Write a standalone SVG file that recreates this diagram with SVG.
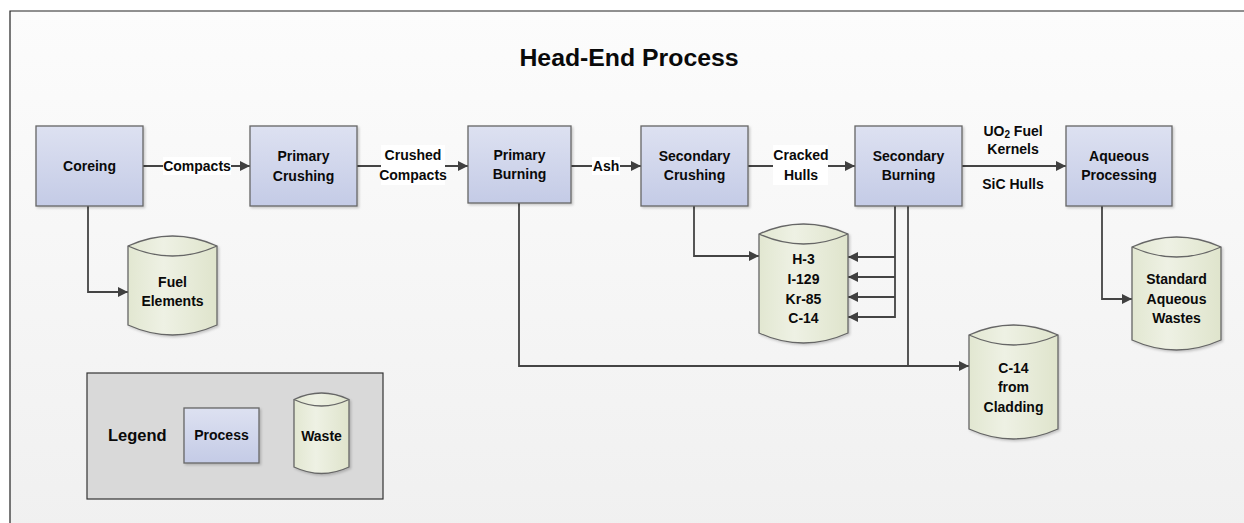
<svg xmlns="http://www.w3.org/2000/svg" width="1244" height="523" viewBox="0 0 1244 523">
  <defs>
    <linearGradient id="bg" x1="0" y1="0" x2="0" y2="1">
      <stop offset="0" stop-color="#fcfcfc"/>
      <stop offset="1" stop-color="#f0f0f0"/>
    </linearGradient>
    <linearGradient id="proc" x1="0" y1="0" x2="0" y2="1">
      <stop offset="0" stop-color="#dde1f1"/>
      <stop offset="1" stop-color="#c4cbe6"/>
    </linearGradient>
    <linearGradient id="waste" x1="0" y1="0" x2="1" y2="0">
      <stop offset="0" stop-color="#e2e7d1"/>
      <stop offset="0.4" stop-color="#eef1e4"/>
      <stop offset="1" stop-color="#dfe4cc"/>
    </linearGradient>
    <marker id="arr" viewBox="0 0 10 10" refX="10" refY="5" markerWidth="10" markerHeight="10" markerUnits="userSpaceOnUse" orient="auto">
      <path d="M0,0 L10,5 L0,10 Z" fill="#404040"/>
    </marker>
    <filter id="shadow" x="-10%" y="-10%" width="130%" height="130%">
      <feDropShadow dx="1.5" dy="1.5" stdDeviation="1" flood-color="#000" flood-opacity="0.2"/>
    </filter>
  </defs>
  <style>
    .box { fill: url(#proc); stroke: #666; stroke-width: 1.3; filter: url(#shadow); }
    .cyl { fill: url(#waste); stroke: #666; stroke-width: 1.3; filter: url(#shadow); }
    .lens { fill: none; stroke: #666; stroke-width: 1.3; }
    .t { font-family: "Liberation Sans", Arial, sans-serif; font-weight: bold; font-size: 14px; fill: #0a0a0a; text-anchor: middle; }
    .title { font-size: 24.8px; }
    .lg { font-size: 16.5px; text-anchor: start; }
    .conn { fill: none; stroke: #444; stroke-width: 1.8; }
    .lbg { fill: #ffffff; }
  </style>

  <!-- page frame -->
  <rect x="0" y="0" width="1244" height="523" fill="#ffffff"/>
  <rect x="10" y="11" width="1240" height="520" fill="url(#bg)"/>
  <path d="M10,523 V11 H1244" fill="none" stroke="#222" stroke-width="1.2"/>

  <text class="t title" x="629" y="66">Head-End Process</text>

  <!-- connectors -->
  <g id="connectors">
    <path class="conn" d="M143,166 H250" marker-end="url(#arr)"/>
    <path class="conn" d="M357,166 H468" marker-end="url(#arr)"/>
    <path class="conn" d="M571,166 H641" marker-end="url(#arr)"/>
    <path class="conn" d="M748,166 H855" marker-end="url(#arr)"/>
    <path class="conn" d="M962,166 H1066" marker-end="url(#arr)"/>
    <path class="conn" d="M88,206 V292 H128" marker-end="url(#arr)"/>
    <path class="conn" d="M519,203 V366 H969" marker-end="url(#arr)"/>
    <path class="conn" d="M908,206 V366"/>
    <path class="conn" d="M694,206 V256 H759" marker-end="url(#arr)"/>
    <path class="conn" d="M895,206 V317 H848" marker-end="url(#arr)"/>
    <path class="conn" d="M895,257 H848" marker-end="url(#arr)"/>
    <path class="conn" d="M895,277 H848" marker-end="url(#arr)"/>
    <path class="conn" d="M895,297 H848" marker-end="url(#arr)"/>
    <path class="conn" d="M1102,206 V299 H1132" marker-end="url(#arr)"/>

    <!-- connector labels -->
    <rect class="lbg" x="163" y="157" width="68" height="18"/>
    <text class="t" x="197" y="171">Compacts</text>
    <rect class="lbg" x="381" y="145" width="64" height="40"/>
    <text class="t" x="413" y="160">Crushed</text>
    <text class="t" x="413" y="180">Compacts</text>
    <rect class="lbg" x="592" y="157" width="28" height="18"/>
    <text class="t" x="606" y="171">Ash</text>
    <rect class="lbg" x="773" y="145" width="55" height="40"/>
    <text class="t" x="801" y="160">Cracked</text>
    <text class="t" x="801" y="180">Hulls</text>
    <text class="t" x="1013" y="136">UO<tspan font-size="10" dy="2">2</tspan><tspan dy="-2"> Fuel</tspan></text>
    <text class="t" x="1013" y="154">Kernels</text>
    <text class="t" x="1013" y="189">SiC Hulls</text>
  </g>

  <!-- process nodes -->
  <g id="coreing">
    <rect class="box" x="36" y="126" width="107" height="80"/>
    <text class="t" x="89.5" y="171">Coreing</text>
  </g>
  <g id="primary-crushing">
    <rect class="box" x="250" y="126" width="107" height="80"/>
    <text class="t" x="303.5" y="161">Primary</text>
    <text class="t" x="303.5" y="181">Crushing</text>
  </g>
  <g id="primary-burning">
    <rect class="box" x="468" y="126" width="103" height="77"/>
    <text class="t" x="519.5" y="160">Primary</text>
    <text class="t" x="519.5" y="179">Burning</text>
  </g>
  <g id="secondary-crushing">
    <rect class="box" x="641" y="126" width="107" height="80"/>
    <text class="t" x="694.5" y="161">Secondary</text>
    <text class="t" x="694.5" y="180">Crushing</text>
  </g>
  <g id="secondary-burning">
    <rect class="box" x="855" y="126" width="107" height="80"/>
    <text class="t" x="908.5" y="161">Secondary</text>
    <text class="t" x="908.5" y="180">Burning</text>
  </g>
  <g id="aqueous-processing">
    <rect class="box" x="1066" y="126" width="106" height="80"/>
    <text class="t" x="1119" y="161">Aqueous</text>
    <text class="t" x="1119" y="180">Processing</text>
  </g>

  <!-- waste nodes -->
  <g id="fuel-elements">
    <path class="cyl" d="M128,246 Q172.5,226 217,246 L217,325 Q172.5,345 128,325 Z"/>
    <path class="lens" d="M128,246 Q172.5,266 217,246"/>
    <text class="t" x="172.5" y="287">Fuel</text>
    <text class="t" x="172.5" y="306">Elements</text>
  </g>
  <g id="gaseous-wastes">
    <path class="cyl" d="M759,234 Q803.5,214 848,234 L848,333 Q803.5,353 759,333 Z"/>
    <path class="lens" d="M759,234 Q803.5,254 848,234"/>
    <text class="t" x="803.5" y="264">H-3</text>
    <text class="t" x="803.5" y="284">I-129</text>
    <text class="t" x="803.5" y="304">Kr-85</text>
    <text class="t" x="803.5" y="323">C-14</text>
  </g>
  <g id="c14-cladding">
    <path class="cyl" d="M969,335 Q1013.5,315 1058,335 L1058,429 Q1013.5,449 969,429 Z"/>
    <path class="lens" d="M969,335 Q1013.5,355 1058,335"/>
    <text class="t" x="1013.5" y="373">C-14</text>
    <text class="t" x="1013.5" y="392">from</text>
    <text class="t" x="1013.5" y="412">Cladding</text>
  </g>
  <g id="aqueous-wastes">
    <path class="cyl" d="M1132,247 Q1176.5,227 1221,247 L1221,340 Q1176.5,360 1132,340 Z"/>
    <path class="lens" d="M1132,247 Q1176.5,267 1221,247"/>
    <text class="t" x="1176.5" y="284">Standard</text>
    <text class="t" x="1176.5" y="304">Aqueous</text>
    <text class="t" x="1176.5" y="323">Wastes</text>
  </g>

  <!-- legend -->
  <g id="legend">
    <rect x="87" y="373" width="296" height="126" fill="#d9d9d9" stroke="#333" stroke-width="1.2"/>
    <text class="t lg" x="108" y="441">Legend</text>
    <rect class="box" x="184" y="408" width="75" height="55"/>
    <text class="t" x="221.5" y="440">Process</text>
    <path class="cyl" d="M294,399.5 Q321.5,386.5 349,399.5 L349,467 Q321.5,480 294,467 Z"/>
    <path class="lens" d="M294,399.5 Q321.5,412.5 349,399.5"/>
    <text class="t" x="321.5" y="441">Waste</text>
  </g>
</svg>
